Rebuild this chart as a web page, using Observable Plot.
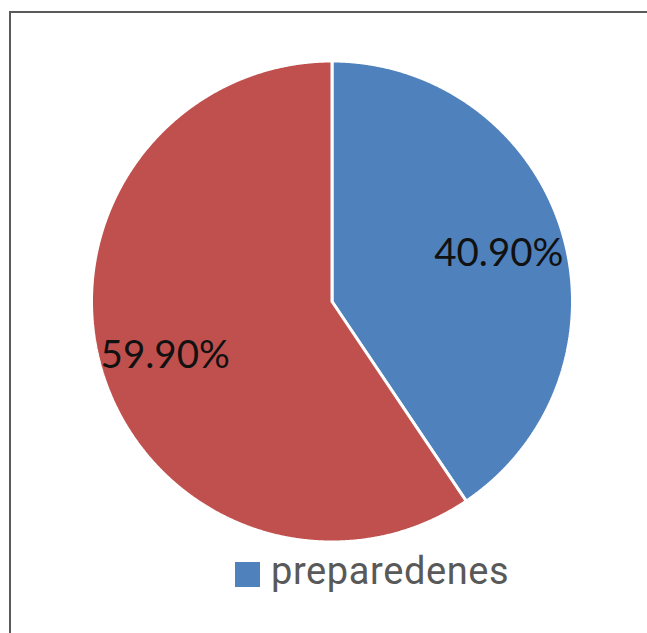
<!DOCTYPE html>
<html><head><meta charset="utf-8">
<script src="https://cdn.jsdelivr.net/npm/d3@7"></script>
<script src="https://cdn.jsdelivr.net/npm/@observablehq/plot@0.6"></script>
<style>
html,body{margin:0;padding:0;background:#fff;overflow:hidden;}
#wrap{position:relative;width:647px;height:633px;overflow:hidden;background:#fff;}
#hline{position:absolute;left:9px;top:11px;width:638px;height:2px;background:#5a5a5a;}
#vline{position:absolute;left:9px;top:11px;width:2px;height:622px;background:#5a5a5a;}
#chart{position:absolute;left:0;top:0;}
#legend{position:absolute;left:235px;top:552px;height:38px;}
#legend .sw{position:absolute;left:0;top:10px;width:25px;height:25px;}
#legend .lb{position:absolute;left:36px;top:0;font-family:Roboto,sans-serif;font-size:38px;line-height:38px;letter-spacing:0.6px;color:#595959;white-space:nowrap;}
</style>
</head><body>
<div id="wrap"><div id="hline"></div><div id="vline"></div><div id="chart"></div><div id="legend"></div></div>
<script>
const categories = ["preparedenes", "other"];
const values = [40.9, 59.9];
const labels = ["40.90%", "59.90%"];
const colors = ["#4F81BD", "#C0504D"];
const legendItems = ["preparedenes"];

const arcs = d3.pie().sort(null).value(d => d)(values);
const slices = arcs.flatMap((a, i) => {
  const n = Math.ceil((a.endAngle - a.startAngle) / 0.004);
  const pts = [{cat: categories[i], x: 0, y: 0}];
  for (let k = 0; k <= n; k++) {
    const t = a.startAngle + (a.endAngle - a.startAngle) * k / n;
    pts.push({cat: categories[i], x: Math.sin(t), y: Math.cos(t)});
  }
  pts.push({cat: categories[i], x: 0, y: 0});
  return pts;
});
const labelR = 0.725;
const labelData = arcs.map((a, i) => {
  const m = (a.startAngle + a.endAngle) / 2;
  return {text: labels[i], x: labelR * Math.sin(m), y: labelR * Math.cos(m)};
});

const plot = Plot.plot({
  width: 647,
  height: 545,
  marginLeft: 91,
  marginRight: 75,
  marginTop: 60.5,
  marginBottom: 3.5,
  x: {domain: [-1, 1], axis: null},
  y: {domain: [-1, 1], axis: null},
  color: {domain: categories, range: colors},
  style: {background: "transparent", overflow: "visible"},
  marks: [
    Plot.line(slices, {x: "x", y: "y", z: "cat", fill: "cat", stroke: "white", strokeWidth: 3, strokeLinejoin: "miter", curve: "linear"}),
    Plot.text(labelData, {x: "x", y: "y", text: "text", fontSize: 38.5, fontFamily: "Lato, sans-serif", fill: "#111", dy: 3})
  ]
});
document.getElementById("chart").appendChild(plot);

const lg = document.getElementById("legend");
legendItems.forEach(name => {
  const sw = document.createElement("div");
  sw.className = "sw";
  sw.style.background = colors[categories.indexOf(name)];
  const lb = document.createElement("div");
  lb.className = "lb";
  lb.textContent = name;
  lg.appendChild(sw);
  lg.appendChild(lb);
});
</script>
</body></html>
